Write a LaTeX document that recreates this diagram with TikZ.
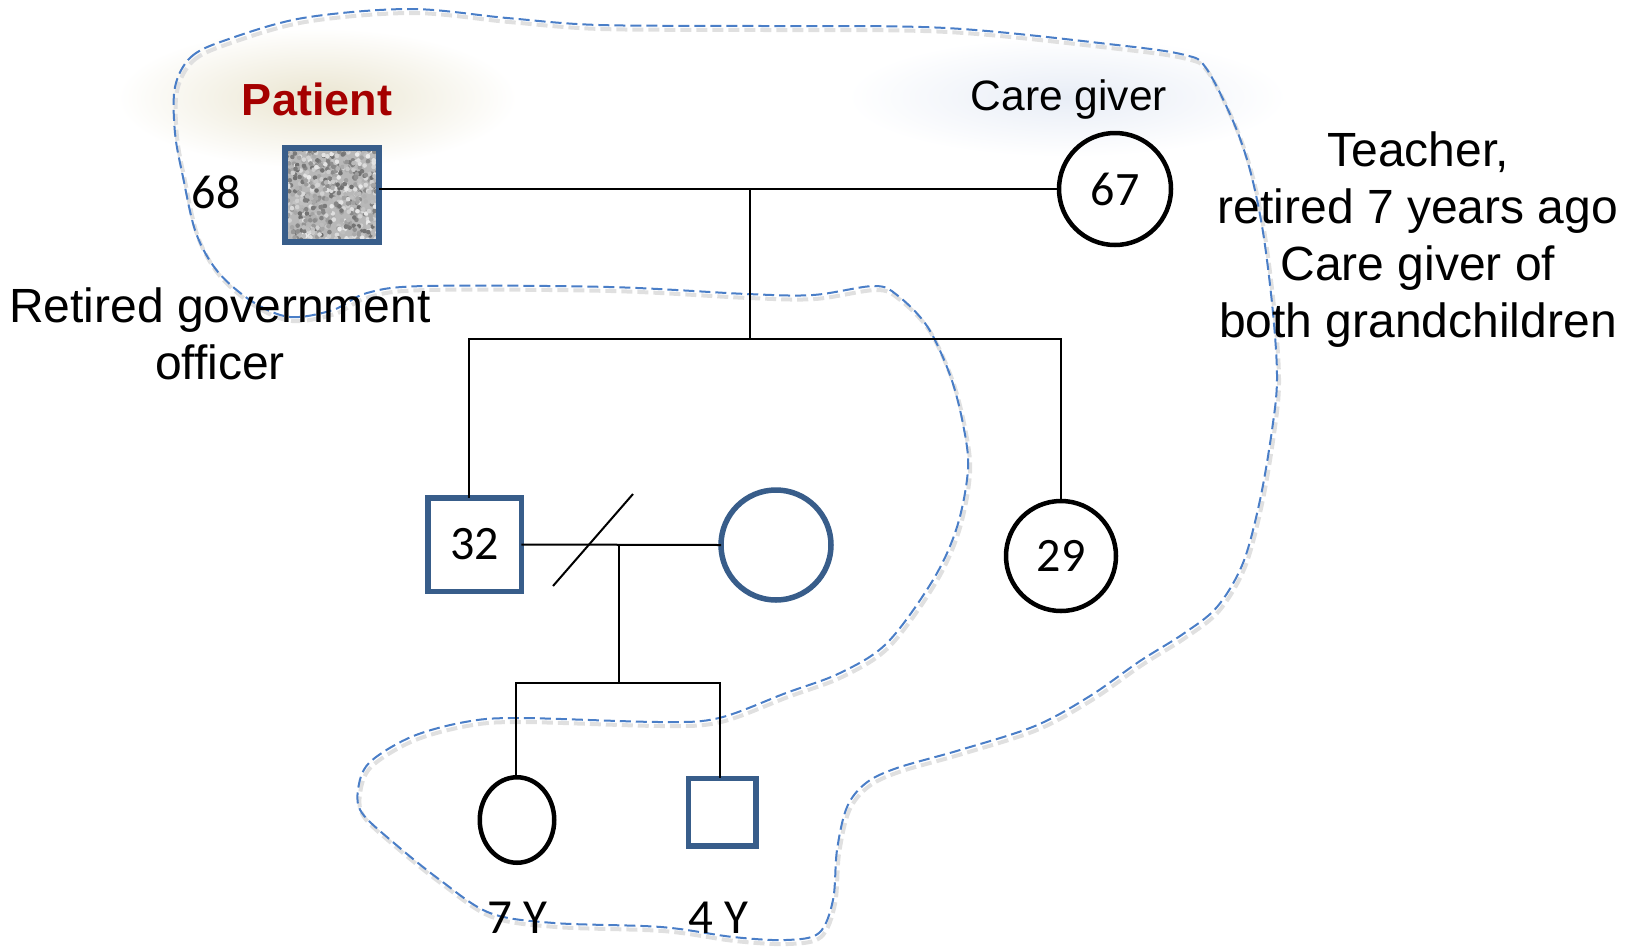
\documentclass[tikz,border=0pt]{standalone}
\usepackage{fontspec}
\setmainfont{Liberation Sans}
\newfontfamily\calibri{Carlito}
\usetikzlibrary{shapes.geometric}
\definecolor{pedblue}{RGB}{56,93,138}
\definecolor{cloudblue}{RGB}{74,126,199}
\definecolor{patred}{RGB}{165,0,0}
\definecolor{patglow}{RGB}{234,229,208}
\definecolor{cgglow}{RGB}{232,237,246}

\begin{document}
\begin{tikzpicture}[x=1pt,y=-1pt,line width=2pt,
  male/.style={rectangle,draw=pedblue,line width=5.5pt,minimum size=#1,inner sep=0pt,outer sep=0pt},
  female/.style={circle,draw,line width=4.5pt,minimum size=#1,inner sep=0pt,outer sep=0pt},
  agetext/.style={font=\calibri\fontsize{48}{48}\selectfont},
  notetext/.style={align=center,inner sep=0pt,font=\fontsize{48}{57}\selectfont},
  cloud/.style={draw=cloudblue,line width=2pt,dash pattern=on 11pt off 5pt}]
 \useasboundingbox (0,0) rectangle (1636,946);
 % glow behind the two labels
 \shade[inner color=patglow,outer color=white] (317,98) ellipse (200 and 70);
 \shade[inner color=cgglow,outer color=white] (1067,97) ellipse (220 and 60);
 % dashed line round the household
 \draw[cloud,preaction={draw=black!12,line width=4pt,dash pattern=on 11pt off 5pt,transform canvas={shift={(2,4)}}}]
  plot[smooth cycle,tension=0.55] coordinates {(175,87) (191,57) (226,40) (303,18) (410,9) (507,18) (599,25) (762,26) (946,28) (1117,45) (1185,55) (1206,68) (1233,121) (1250,170) (1263,232) (1273,313) (1277,379) (1272,430) (1260,500) (1243,563) (1217,607) (1183,634) (1140,661) (1090,696) (1035,726) (960,750) (897,768) (866,783) (847,807) (837,850) (833,900) (819,933) (786,940) (733,937) (661,927) (554,923) (490,913) (440,880) (394,843) (362,813) (358,790) (369,763) (411,737) (465,722) (519,718) (661,722) (719,718) (786,693) (840,673) (887,643) (933,580) (957,527) (968,469) (963,424) (950,375) (927,326) (897,295) (874,286) (813,295) (747,294) (609,287) (425,286) (367,293) (333,310) (290,317) (253,302) (218,272) (196,233) (183,177) (175,133)};
 % first generation
 \node[male=94pt,fill=black!28] (pat) at (332,195) {};
 \begin{scope}
  \clip (pat.south west) rectangle (pat.north east);
  \pgfmathsetseed{11}
  \foreach \i in {1,...,700}{
   \pgfmathsetmacro\dx{rnd*100-50}
   \pgfmathsetmacro\dy{rnd*100-50}
   \pgfmathsetmacro\g{int(8+rnd*50)}
   \fill[black!\g] (332+\dx,195+\dy) circle (2.3);
  }
 \end{scope}
 \draw[draw=pedblue,line width=5.5pt] (pat.south west) rectangle (pat.north east);
 \node[female=112pt,agetext] (cg) at (1115,189) {67};
 \node[anchor=base,font=\bfseries\fontsize{45}{45}\selectfont,text=patred] (patlabel) at (317,115) {Patient};
 \node[anchor=base,font=\calibri\fontsize{48}{48}\selectfont] (patage) at (216,208) {68};
 \node[anchor=base,font=\fontsize{42.5}{42.5}\selectfont] (cglabel) at (1069,110) {Care giver};
 \node[notetext,anchor=north] (patjob) at (220,287) {Retired government\\officer};
 \node[notetext,anchor=north] (cgjob) at (1418,131) {Teacher,\\retired 7 years ago\\Care giver of\\both grandchildren};
 \coordinate (mid) at (750,190);
 \draw (pat.east |- cg.west) -- (cg.west);
 % second generation
 \coordinate (sibL) at (469,339);
 \coordinate (sibR) at (1061,339);
 \node[male=93.5pt,agetext] (son) at (474.5,544.5) {32};
 \node[female=110pt,draw=pedblue,line width=5.5pt] (wife) at (776,545) {};
 \node[female=110pt,agetext] (dau) at (1061,556) {29};
 \draw (mid) -- (mid |- sibL);
 \draw (sibL |- son.north) -- (sibL) -- (sibR) -- (dau.north);
 \draw (son.east) -- (wife.west);
 \draw (553,586) -- (633,494);   % separated
 % grandchildren
 \coordinate (kid) at (619,544);
 \coordinate (kidL) at (516,683);
 \coordinate (kidR) at (720,683);
 \node[ellipse,draw,line width=4.5pt,minimum width=74.5pt,minimum height=85.5pt,inner sep=0pt,outer sep=0pt] (gd) at (517,820) {};
 \node[male=67.5pt] (gs) at (722,812) {};
 \draw (kid) -- (kid |- kidL);
 \draw (kidL |- gd.north) -- (kidL) -- (kidR) -- (kidR |- gs.north);
 \node[anchor=base,inner sep=0pt,font=\calibri\fontsize{49}{49}\selectfont] (gdage) at (517,933) {7 Y};
 \node[anchor=base,inner sep=0pt,font=\calibri\fontsize{49}{49}\selectfont] (gsage) at (718,933) {4 Y};
\end{tikzpicture}
\end{document}
